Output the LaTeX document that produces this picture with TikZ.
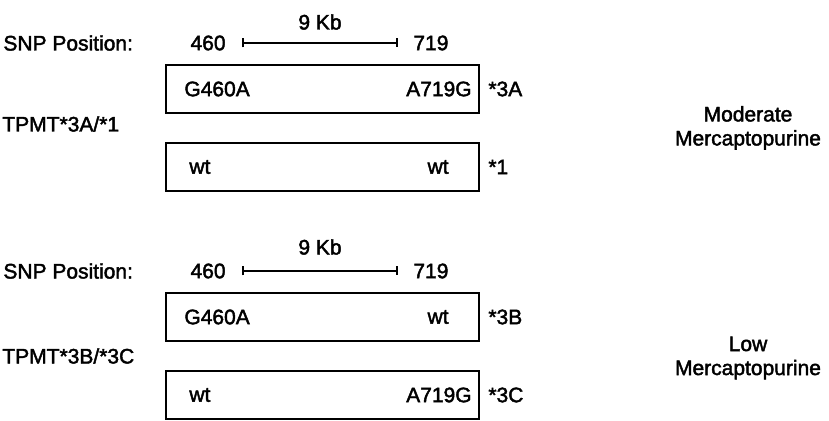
\documentclass[tikz,border=0pt]{standalone}
\usepackage{fontspec}
\setmainfont{Liberation Sans}
\newfontfamily\heavysans[FakeBold=2]{Liberation Sans}
\usetikzlibrary{arrows.meta,positioning}
\tikzset{
  lbl/.style={font=\fontsize{10.5}{12}\heavysans, inner sep=0pt},
  allele/.style={draw, line width=1pt, minimum width=156.5pt, minimum height=24pt, inner sep=0pt},
  kbbar/.style={line width=0.8pt, {Bar[width=4.5pt]}-{Bar[width=4.5pt]}},
}

\begin{document}
\begin{tikzpicture}[x=0.5pt, y=-0.5pt]
  \useasboundingbox (0,0) rectangle (829,421);
  % upper pair: TPMT*3A/*1
  \node[lbl] (kbA) at (320,22) {9 Kb};
  \node[lbl, anchor=west] (snpA) at (3,43) {SNP Position:};
  \node[lbl, anchor=east] (lA) at (226,43) {460};
  \node[lbl, anchor=west] (rA) at (413,43) {719};
  \draw[kbbar] ([xshift=8pt]lA.east) -- ([xshift=-7.5pt]rA.west);
  \node[allele] (h3A) at (322.5,89) {};
  \node[allele] (h1) at (322.5,167) {};
  \node[lbl, anchor=west] at ([xshift=9.5pt]h3A.west) {G460A};
  \node[lbl, anchor=east] at ([xshift=-4pt]h3A.east) {A719G};
  \node[lbl, anchor=west] at ([xshift=12pt]h1.west) {wt};
  \node[lbl, anchor=east] at ([xshift=-15.5pt]h1.east) {wt};
  \node[lbl, anchor=west] (s3A) at ([xshift=4pt]h3A.east) {*3A};
  \node[lbl, anchor=west] (s1) at ([xshift=4pt]h1.east) {*1};
  \node[lbl, anchor=west] (gtA) at (2,124) {TPMT*3A/*1};
  \node[lbl, align=center] (phA) at (748,128) {Moderate\\Mercaptopurine};
  % lower pair: TPMT*3B/*3C
  \node[lbl] (kbB) at (320,247) {9 Kb};
  \node[lbl, anchor=west] (snpB) at (3,271) {SNP Position:};
  \node[lbl, anchor=east] (lB) at (226,271) {460};
  \node[lbl, anchor=west] (rB) at (413,271) {719};
  \draw[kbbar] ([xshift=8pt]lB.east) -- ([xshift=-7.5pt]rB.west);
  \node[allele] (h3B) at (322.5,317) {};
  \node[allele] (h3C) at (322.5,395) {};
  \node[lbl, anchor=west] at ([xshift=9.5pt]h3B.west) {G460A};
  \node[lbl, anchor=east] at ([xshift=-15.5pt]h3B.east) {wt};
  \node[lbl, anchor=west] at ([xshift=12pt]h3C.west) {wt};
  \node[lbl, anchor=east] at ([xshift=-4pt]h3C.east) {A719G};
  \node[lbl, anchor=west] (s3B) at ([xshift=4pt]h3B.east) {*3B};
  \node[lbl, anchor=west] (s3C) at ([xshift=4pt]h3C.east) {*3C};
  \node[lbl, anchor=west] (gtB) at (2,356) {TPMT*3B/*3C};
  \node[lbl, align=center] (phB) at (748,358) {Low\\Mercaptopurine};
\end{tikzpicture}
\end{document}
